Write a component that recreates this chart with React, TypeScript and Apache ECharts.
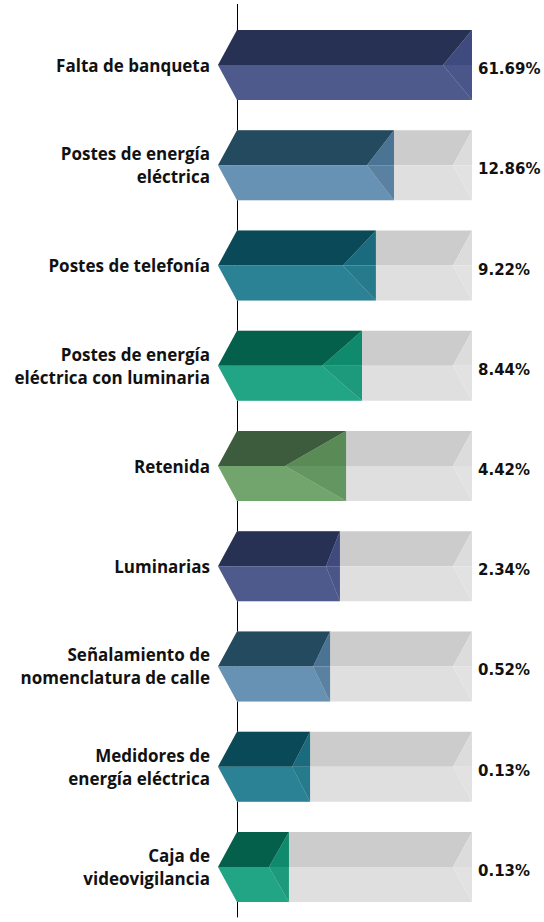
import React, { useEffect, useRef } from "react";
import * as echarts from "echarts";

// ---- data ----
const categories = [
  "Falta de banqueta",
  "Postes de energía\neléctrica",
  "Postes de telefonía",
  "Postes de energía\neléctrica con luminaria",
  "Retenida",
  "Luminarias",
  "Señalamiento de\nnomenclatura de calle",
  "Medidores de\nenergía eléctrica",
  "Caja de\nvideovigilancia",
];
const percentValues = [61.69, 12.86, 9.22, 8.44, 4.42, 2.34, 0.52, 0.13, 0.13];
// displayed bar length, in % of the track
const barLength = [100, 66.8, 59.1, 53.2, 46.4, 43.8, 39.6, 31.1, 22.1];
const trackMax = 100;

// ---- styles ----
const palettes = {
  navy: { top: "#263154", bottom: "#4f5a8c", faceTop: "#3f4a7e", faceBottom: "#4a5589" },
  steel: { top: "#234a5e", bottom: "#6792b3", faceTop: "#4b7494", faceBottom: "#5a81a2" },
  teal: { top: "#0a4a58", bottom: "#2b8295", faceTop: "#1a6b7e", faceBottom: "#257a8c" },
  green: { top: "#05604b", bottom: "#21a585", faceTop: "#0f8a6c", faceBottom: "#1d9a7b" },
  olive: { top: "#3d5c3d", bottom: "#72a56d", faceTop: "#5a8a56", faceBottom: "#649661" },
};
const rowPalette = [
  palettes.navy,
  palettes.steel,
  palettes.teal,
  palettes.green,
  palettes.olive,
  palettes.navy,
  palettes.steel,
  palettes.teal,
  palettes.green,
];
const faceDepth = [29, 27, 33, 40, 61, 14, 17, 18, 20];
const track = { top: "#cbcccb", bottom: "#dfdfdf", faceTop: "#dcdcdc", faceBottom: "#e2e2e2", depth: 19 };
const BAR_HALF = 35;
const CHEVRON = 19;

export default function App() {
  const ref = useRef<HTMLDivElement>(null);
  useEffect(() => {
    document.body.style.margin = "0";
    if (!ref.current) return;
    const chart = echarts.init(ref.current, undefined, { renderer: "svg" });

    const shape = (x0: number, xe: number, yc: number, d: number, c: any) => {
      const h = BAR_HALF;
      return [
        {
          type: "polygon",
          shape: { points: [[x0, yc - h], [xe, yc - h], [xe - d, yc], [x0 - CHEVRON, yc]] },
          style: { fill: c.top },
        },
        {
          type: "polygon",
          shape: { points: [[x0 - CHEVRON, yc], [xe - d, yc], [xe, yc + h], [x0, yc + h]] },
          style: { fill: c.bottom },
        },
        {
          type: "polygon",
          shape: { points: [[xe, yc - h], [xe, yc], [xe - d, yc]] },
          style: { fill: c.faceTop },
        },
        {
          type: "polygon",
          shape: { points: [[xe - d, yc], [xe, yc], [xe, yc + h]] },
          style: { fill: c.faceBottom },
        },
      ];
    };

    const data = barLength.map((v, i) => [v, i, percentValues[i]]);

    chart.setOption({
      animation: false,
      grid: { left: 237, right: 72, top: 15, bottom: 5 },
      xAxis: { type: "value", min: 0, max: trackMax, show: false },
      yAxis: {
        type: "category",
        data: categories,
        inverse: true,
        axisLine: { show: true, lineStyle: { color: "#000", width: 1 } },
        axisTick: { show: false },
        axisLabel: {
          margin: 27,
          fontFamily: "Open Sans",
          fontWeight: "bold",
          fontSize: 17,
          lineHeight: 23,
          color: "#111",
          padding: [10, 0, 0, 0],
        },
      },
      series: [
        {
          type: "custom",
          data,
          encode: { x: 0, y: 1 },
          renderItem: (params: any, api: any) => {
            const idx = api.value(1);
            const len = api.value(0);
            const start = api.coord([0, idx]);
            const end = api.coord([len, idx]);
            const full = api.coord([trackMax, idx]);
            const yc = start[1];
            const children: any[] = [
              ...shape(start[0], full[0], yc, track.depth, track),
              ...shape(start[0], end[0], yc, faceDepth[params.dataIndex], rowPalette[params.dataIndex]),
              {
                type: "text",
                style: {
                  text: api.value(2).toFixed(2) + "%",
                  x: full[0] + 6,
                  y: yc + 4,
                  fill: "#111",
                  font: 'bold 15px "DejaVu Sans"',
                  align: "left",
                  verticalAlign: "middle",
                },
              },
            ];
            return { type: "group", children };
          },
        },
      ],
      graphic: [
        {
          type: "line",
          shape: { x1: 237.5, y1: 598.5, x2: 243, y2: 598.5 },
          style: { stroke: "#000", lineWidth: 1 },
        },
        {
          type: "line",
          shape: { x1: 237.5, y1: 4, x2: 237.5, y2: 15 },
          style: { stroke: "#000", lineWidth: 1 },
        },
      ],
    });
    return () => chart.dispose();
  }, []);
  return <div ref={ref} style={{ width: 544, height: 922 }} />;
}
